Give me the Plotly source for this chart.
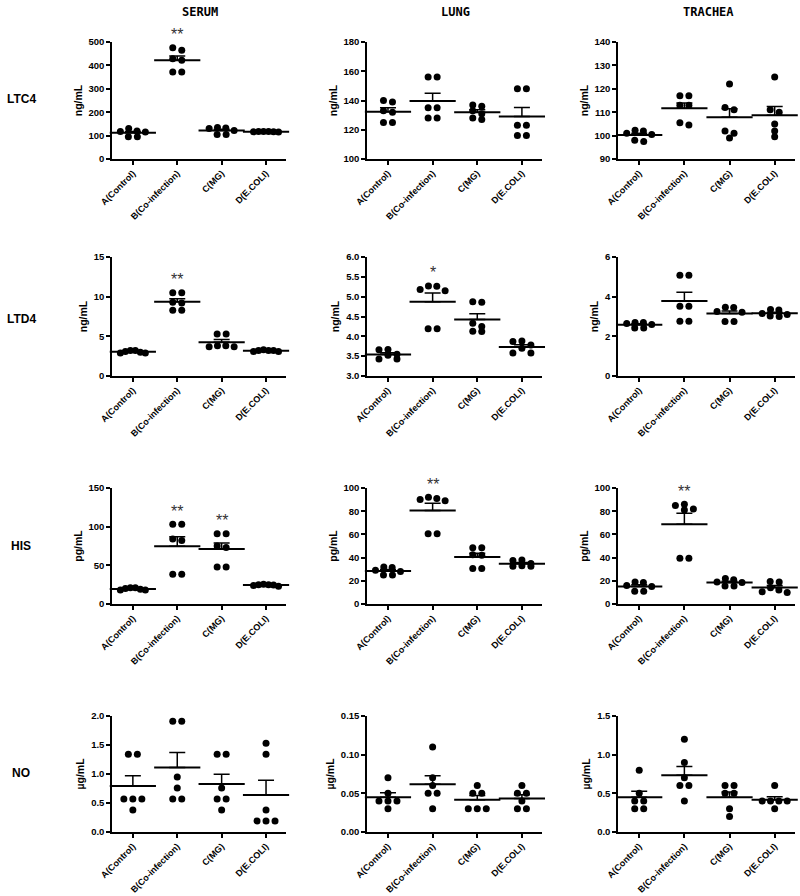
import numpy as np
import plotly.graph_objects as go
from plotly.subplots import make_subplots

groups = ['A(Control)', 'B(Co-infection)', 'C(MG)', 'D(E.COLI)']
tissues = ['SERUM', 'LUNG', 'TRACHEA']
mediators = ['LTC4', 'LTD4', 'HIS', 'NO']
units = ['ng/mL', 'ng/mL', 'pg/mL', 'µg/mL']

# one list of 6 animals per group: A, B, C, D
ltc4_serum = [[130, 120, 117, 115, 95, 95], [475, 465, 428, 422, 372, 372],
              [135, 132, 130, 122, 105, 105], [118, 117, 116, 115, 118, 116]]
ltc4_lung = [[140, 139, 133, 132, 125, 125], [156, 156, 135, 135, 128, 128],
             [137, 136, 133, 131, 128, 127], [148, 148, 123, 123, 116, 116]]
ltc4_trachea = [[102.3, 102, 101, 100.5, 97.5, 98], [117, 117, 113, 113, 105.5, 104.5],
                [122, 112, 111, 102, 101, 99], [125, 111, 110, 105, 102, 99.5]]

ltd4_serum = [[3.2, 3.1, 3.0, 2.9, 2.9, 3.2], [10.5, 10.5, 9.3, 9.2, 8.3, 8.3],
              [5.3, 5.3, 3.8, 3.8, 3.7, 3.7], [3.3, 3.2, 3.2, 3.1, 3.1, 3.2]]
ltd4_lung = [[3.67, 3.66, 3.55, 3.52, 3.43, 3.43], [5.27, 5.26, 5.18, 5.15, 4.19, 4.19],
             [4.87, 4.86, 4.33, 4.25, 4.13, 4.12], [3.88, 3.87, 3.78, 3.70, 3.58, 3.58]]
ltd4_trachea = [[2.7, 2.7, 2.65, 2.6, 2.42, 2.42], [5.08, 5.08, 3.52, 3.52, 2.76, 2.76],
                [3.47, 3.45, 3.25, 3.22, 2.75, 2.75], [3.35, 3.33, 3.15, 3.1, 3.02, 3.0]]

his_serum = [[21, 21, 20, 19, 18, 18], [103, 103, 84, 82, 38.5, 38.5],
             [91, 91, 75, 73, 48, 48], [25.5, 25, 24.5, 24, 23, 25]]
his_lung = [[32, 31.5, 29, 28, 25, 25], [92, 91, 90, 89, 60.5, 60.5],
            [48.5, 48.5, 42.5, 42, 30.5, 30.5], [38, 37.5, 35, 33, 32.5, 32.5]]
his_trachea = [[19, 18.5, 16, 15, 11, 11], [86, 85, 82, 81, 39.5, 39.5],
               [22, 21, 19, 18.5, 15.5, 15.5], [19.5, 19, 14, 12, 10.5, 10]]

no_serum = [[1.34, 1.34, 0.57, 0.57, 0.57, 0.38], [1.91, 1.91, 0.95, 0.76, 0.57, 0.57],
            [1.34, 1.34, 0.76, 0.57, 0.57, 0.38], [1.53, 1.34, 0.38, 0.19, 0.19, 0.19]]
no_lung = [[0.07, 0.05, 0.04, 0.04, 0.04, 0.03], [0.11, 0.07, 0.06, 0.05, 0.05, 0.03],
           [0.06, 0.05, 0.05, 0.03, 0.03, 0.03], [0.06, 0.05, 0.05, 0.04, 0.03, 0.03]]
no_trachea = [[0.8, 0.5, 0.4, 0.4, 0.3, 0.3], [1.2, 0.9, 0.7, 0.6, 0.6, 0.4],
              [0.6, 0.6, 0.5, 0.5, 0.3, 0.2], [0.6, 0.4, 0.4, 0.4, 0.4, 0.3]]

panels = [[ltc4_serum, ltc4_lung, ltc4_trachea],
          [ltd4_serum, ltd4_lung, ltd4_trachea],
          [his_serum, his_lung, his_trachea],
          [no_serum, no_lung, no_trachea]]

y_ranges = [[(0, 500), (100, 180), (90, 140)],
            [(0, 15), (3.0, 6.0), (0, 6)],
            [(0, 150), (0, 100), (0, 100)],
            [(0, 2.0), (0, 0.15), (0, 1.5)]]
y_dticks = [[100, 20, 10], [5, 0.5, 2], [50, 20, 20], [0.5, 0.05, 0.5]]
y_formats = [['', '', ''], ['', '.1f', ''], ['', '', ''], ['.1f', '.2f', '.1f']]

# significance marks: (row, col, group index, text)
stars = [(0, 0, 1, '**'), (1, 0, 1, '**'), (1, 1, 1, '*'),
         (2, 0, 1, '**'), (2, 0, 2, '**'), (2, 1, 1, '**'), (2, 2, 1, '**')]

# page geometry in pixels; the body margin is removed so figure px == page px
W, H = 800, 896
col_px = [(112, 286), (367, 542), (618, 795)]
row_px = [(42, 159), (257, 376), (488, 604), (716, 832)]
col_title_px = [200, 455, 708]
row_label_px = [99, 319, 546, 773]
X_RANGE = (-0.47, 3.45)
FONT = 'Liberation Sans, Arial, sans-serif'


def fx(px):
    return px / W


def fy(py):
    return 1 - py / H


def spread(vals, px_per_unit, px_per_cat, gap=9.0, max_w=25.0, near=5.0):
    """side-by-side offsets for dots that would overlap (column scatter)"""
    vals = np.asarray(vals, dtype=float)
    order = np.argsort(-vals, kind='stable')
    clusters = []
    for i in order:
        if clusters and (vals[clusters[-1][0]] - vals[i]) * px_per_unit < near:
            clusters[-1].append(i)
        else:
            clusters.append([i])
    offs = np.zeros(len(vals))
    for cl in clusters:
        n = len(cl)
        step = gap if n < 2 else min(gap, max_w / (n - 1))
        slots = sorted(range(n), key=lambda k: abs(k - (n - 1) / 2))
        for i, k in zip(cl, slots):
            offs[i] = (k - (n - 1) / 2) * step / px_per_cat
    return offs


fig = make_subplots(rows=4, cols=3)

for r in range(4):
    for c in range(3):
        idx = r * 3 + 1 + c
        data = panels[r][c]
        y0, y1 = y_ranges[r][c]
        h_px = row_px[r][1] - row_px[r][0]
        w_px = col_px[c][1] - col_px[c][0]
        ppu = h_px / (y1 - y0)
        ppc = w_px / (X_RANGE[1] - X_RANGE[0])

        for g, vals in enumerate(data):
            offs = spread(vals, ppu, ppc)
            fig.add_trace(go.Scatter(
                x=g + offs, y=vals, mode='markers',
                marker=dict(color='black', size=7),
                hoverinfo='y', cliponaxis=False
            ), row=r + 1, col=c + 1)

            arr = np.asarray(vals, dtype=float)
            mean = arr.mean()
            sem = arr.std(ddof=1) / np.sqrt(len(arr))
            fig.add_trace(go.Scatter(
                x=[g], y=[mean], mode='markers',
                marker=dict(symbol='line-ew', size=33,
                            line=dict(color='black', width=2)),
                error_y=dict(type='data', symmetric=False, array=[sem], arrayminus=[0],
                             color='black', thickness=1.5, width=8),
                hoverinfo='y', cliponaxis=False
            ), row=r + 1, col=c + 1)

        xa = 'xaxis' if idx == 1 else f'xaxis{idx}'
        ya = 'yaxis' if idx == 1 else f'yaxis{idx}'
        fig.layout[xa].domain = [fx(col_px[c][0]), fx(col_px[c][1])]
        fig.layout[ya].domain = [fy(row_px[r][1]), fy(row_px[r][0])]

        fig.update_xaxes(
            range=list(X_RANGE), tickvals=[0, 1, 2, 3], ticktext=groups, tickangle=-45,
            showline=True, linecolor='black', linewidth=1.5, ticks='outside',
            ticklen=4, tickwidth=1.5, tickcolor='black', showgrid=False, zeroline=False,
            automargin=False,
            tickfont=dict(family=FONT, size=9, color='black', weight='bold'),
            row=r + 1, col=c + 1)
        fig.update_yaxes(
            range=[y0, y1], dtick=y_dticks[r][c], tick0=y0, tickformat=y_formats[r][c],
            showline=True, linecolor='black', linewidth=1.5, ticks='outside',
            ticklen=4, tickwidth=1.5, tickcolor='black', showgrid=False, zeroline=False,
            automargin=False,
            tickfont=dict(family=FONT, size=9.5, color='black', weight='bold'),
            title=dict(text=units[r], standoff=4,
                       font=dict(family=FONT, size=10.5, color='black', weight='bold')),
            row=r + 1, col=c + 1)

annotations = []
for c, name in enumerate(tissues):
    annotations.append(dict(
        text=name, x=fx(col_title_px[c]), y=fy(12), xref='paper', yref='paper',
        showarrow=False, xanchor='center', yanchor='middle',
        font=dict(family='DejaVu Sans Mono', size=12, color='black', weight='bold')))
for r, name in enumerate(mediators):
    annotations.append(dict(
        text=name, x=fx(21), y=fy(row_label_px[r]), xref='paper', yref='paper',
        showarrow=False, xanchor='center', yanchor='middle',
        font=dict(family=FONT, size=12, color='black', weight='bold')))
for r, c, g, txt in stars:
    idx = r * 3 + 1 + c
    sfx = '' if idx == 1 else str(idx)
    annotations.append(dict(
        text=txt, x=g, y=max(panels[r][c][g]), xref=f'x{sfx}', yref=f'y{sfx}',
        showarrow=False, xanchor='center', yanchor='middle', yshift=13,
        font=dict(family=FONT, size=16, color='#333333')))

fig.update_layout(
    width=W, height=H,
    margin=dict(l=0, r=0, t=0, b=0, autoexpand=False),
    paper_bgcolor='white', plot_bgcolor='white',
    showlegend=False,
    annotations=annotations,
)

fig.write_html("out.html", config={'displayModeBar': False},
               post_script="document.body.style.margin = '0';")
